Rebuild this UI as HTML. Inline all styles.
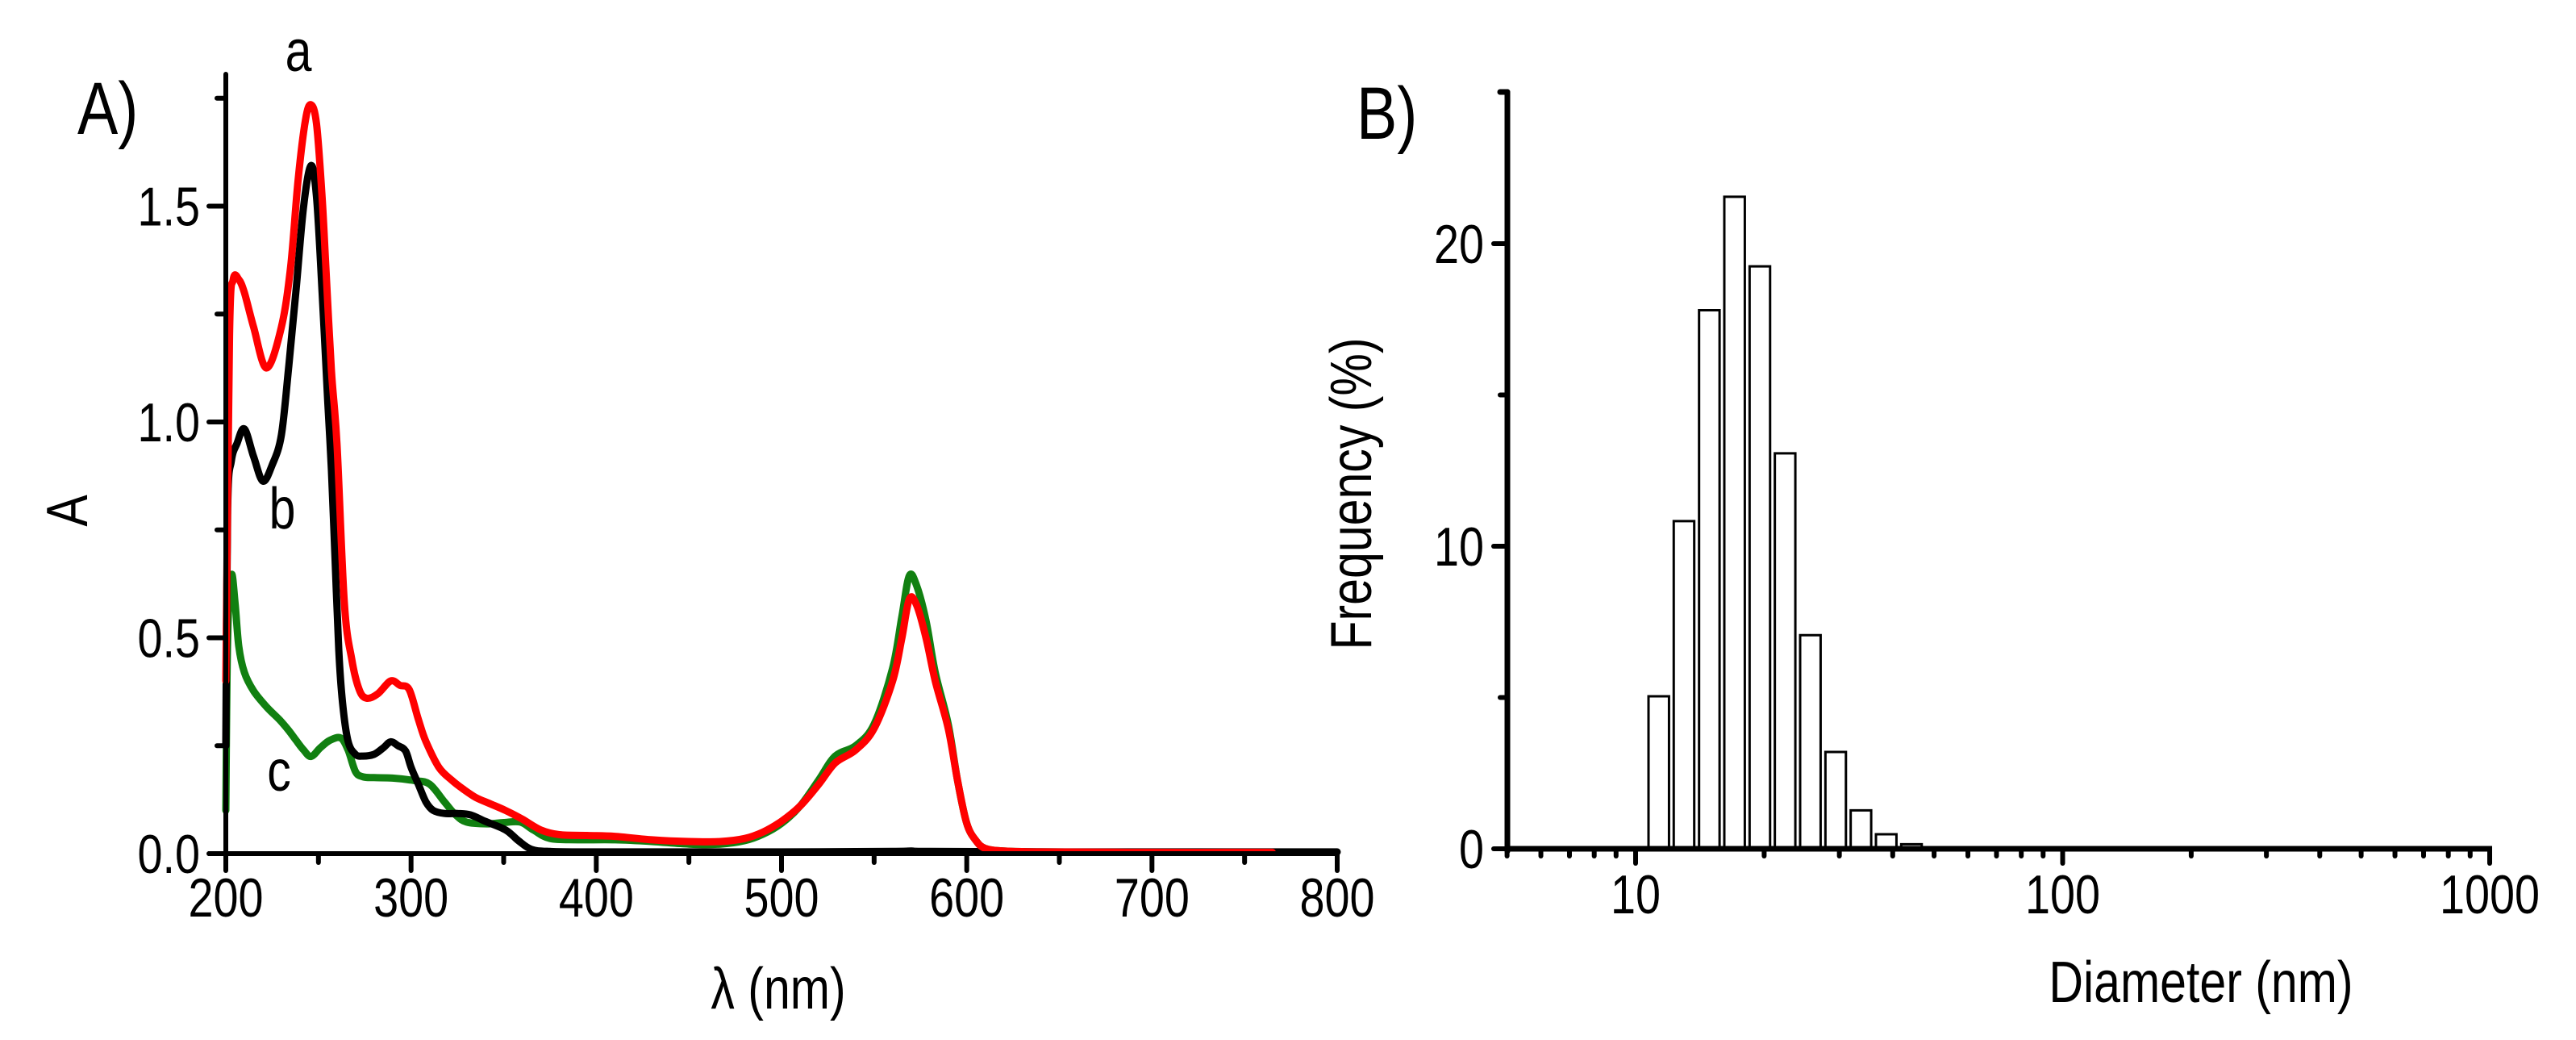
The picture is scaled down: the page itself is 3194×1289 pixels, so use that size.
<!DOCTYPE html>
<html><head><meta charset="utf-8"><style>
html,body{margin:0;padding:0;background:#fff;}
svg{display:block;}
text{font-family:"Liberation Sans",sans-serif;fill:#000;}
</style></head><body>
<svg id="fig" width="3194" height="1289" viewBox="0 0 3194 1289" xmlns="http://www.w3.org/2000/svg">
<g id="pa"></g>
<g id="pb"></g>
</svg>
<script>
// Panel A data
const waveA = [200,202,204,207,210,215,222,230,235,239,243,246,249,252,254,257,260,264,268,272,276,282,289,294,299,304,308,315,322,328,335,343,351,360,370,380,395,410,430,450,467,480,490,500,510,520,529,540,550,560,565,569,573,578,583,590,595,600,605,610,620,640,700,765];
const redA  = [0.40,1.20,1.33,1.33,1.30,1.22,1.125,1.22,1.36,1.56,1.70,1.735,1.69,1.52,1.36,1.12,0.95,0.58,0.45,0.38,0.36,0.37,0.40,0.39,0.38,0.31,0.26,0.20,0.17,0.15,0.13,0.115,0.10,0.08,0.055,0.044,0.042,0.040,0.032,0.028,0.028,0.035,0.05,0.075,0.11,0.16,0.21,0.24,0.29,0.40,0.50,0.59,0.575,0.50,0.40,0.29,0.17,0.07,0.03,0.012,0.006,0.004,0.003,0.003];
const waveB = [200,201,203,206,210,215,220,225,230,234,238,242,246,249,252,255,257,259,261,263,266,270,274,280,285,289,293,297,300,304,308,312,318,325,332,340,351,358,365,375,400,500,560,570,580,650,800];
const blackB= [0.25,0.80,0.91,0.95,0.984,0.92,0.863,0.90,0.97,1.13,1.31,1.50,1.594,1.52,1.30,1.05,0.89,0.68,0.47,0.35,0.26,0.23,0.226,0.23,0.245,0.259,0.25,0.238,0.20,0.16,0.12,0.10,0.093,0.093,0.09,0.075,0.055,0.03,0.01,0.005,0.004,0.004,0.005,0.006,0.005,0.004,0.004];
const waveC = [200,201,203,205,207,210,215,222,229,234,238,242,246,251,256,262,266,270,274,280,290,302,310,318,324,330,341,350,359,366,375,390,410,430,450,467,480,490,500,510,520,529,540,550,560,565,569,573,578,583,590,595,600,605,610,620,640,700,765];
const greenC= [0.10,0.50,0.645,0.58,0.48,0.42,0.377,0.34,0.31,0.285,0.262,0.24,0.225,0.245,0.262,0.268,0.24,0.19,0.178,0.176,0.175,0.169,0.161,0.12,0.09,0.073,0.069,0.072,0.073,0.055,0.035,0.032,0.032,0.028,0.022,0.022,0.03,0.045,0.07,0.11,0.17,0.226,0.25,0.30,0.43,0.55,0.644,0.62,0.54,0.42,0.30,0.17,0.07,0.03,0.012,0.006,0.004,0.003,0.003];
const xTicksA = [200,300,400,500,600,700,800];
const yTicksA = [0.0,0.5,1.0,1.5];
// Panel B data
const diam = [11.33,12.98,14.88,17.05,19.54,22.39,25.66,29.41,33.70,38.62,44.26];
const freq = [5.04,10.83,17.8,21.55,19.25,13.07,7.06,3.2,1.27,0.48,0.15];
const xTicksB = [10,100,1000];
const yTicksB = [0,10,20];

const NS="http://www.w3.org/2000/svg";
const SX=0.82;
function mk(parent,tag,attrs,txt){const e=document.createElementNS(NS,tag);for(const k in attrs)e.setAttribute(k,attrs[k]);if(txt!==undefined)e.textContent=txt;parent.appendChild(e);return e;}
function txt(parent,x,y,size,anchor,s,rot){
  const tr='translate('+x+','+y+')'+(rot?' rotate(-90)':'')+' scale('+SX+',1)';
  return mk(parent,'text',{x:0,y:0,'font-size':size,'text-anchor':anchor,transform:tr},s);
}
function smooth(pts){
  let d='M'+pts[0][0].toFixed(1)+','+pts[0][1].toFixed(1);
  for(let i=0;i<pts.length-1;i++){
    const p0=pts[Math.max(0,i-1)],p1=pts[i],p2=pts[i+1],p3=pts[Math.min(pts.length-1,i+2)];
    const c1=[p1[0]+(p2[0]-p0[0])/6,p1[1]+(p2[1]-p0[1])/6];
    const c2=[p2[0]-(p3[0]-p1[0])/6,p2[1]-(p3[1]-p1[1])/6];
    d+='C'+c1[0].toFixed(1)+','+c1[1].toFixed(1)+' '+c2[0].toFixed(1)+','+c2[1].toFixed(1)+' '+p2[0].toFixed(1)+','+p2[1].toFixed(1);
  }
  return d;
}

// ---- Panel A ----
const pa=document.getElementById('pa');
const ax=v=>280+(v-200)*(1378/600);
const ay=v=>1058-v*535;
function series(xs,ys,col,name){
  const pts=xs.map((x,i)=>[ax(x),ay(ys[i])]);
  const p=mk(pa,'path',{d:smooth(pts),fill:'none',stroke:col,'stroke-width':9,'stroke-linejoin':'round','stroke-linecap':'round'});
  
  
}
series(waveC,greenC,'#118011','curve-c-green');
series(waveB,blackB,'#000','curve-b-black');
series(waveA,redA,'#ff0000','curve-a-red');
let e=mk(pa,'line',{x1:280,y1:92,x2:280,y2:1061,stroke:'#000','stroke-width':6,'stroke-linecap':'round'});

e=mk(pa,'line',{x1:258,y1:1058,x2:1659,y2:1058,stroke:'#000','stroke-width':6});

for(let v=200;v<=800;v+=50){const maj=v%100===0;
  e=mk(pa,'line',{x1:ax(v),y1:1058,x2:ax(v),y2:maj?1079:1069,stroke:'#000','stroke-width':6,'stroke-linecap':'round'});
  }
xTicksA.forEach(v=>{e=txt(pa,ax(v),1136,68,'middle',String(v));
  });
for(let v=0;v<=1.76;v+=0.25){const maj=Math.abs(v*2-Math.round(v*2))<1e-6;
  e=mk(pa,'line',{x1:maj?259:269,y1:ay(v),x2:280,y2:ay(v),stroke:'#000','stroke-width':6,'stroke-linecap':'round'});
  }
yTicksA.forEach(v=>{e=txt(pa,248,ay(v)+24,68,'end',v.toFixed(1));
  });
e=txt(pa,965,1250,72,'middle','λ (nm)');

e=txt(pa,108,633,72,'middle','A',true);

e=txt(pa,96,166,92,'start','A)');

[['a',370,88,'curve-label-a'],['b',350,655,'curve-label-b'],['c',346,980,'curve-label-c']].forEach(t=>{
  e=txt(pa,t[1],t[2],72,'middle',t[0]);
  });

// ---- Panel B ----
const pb=document.getElementById('pb');
const bx=v=>2028+(Math.log10(v)-1)*529.5;
const by=v=>1052-v*37.5;
const halfW=0.024;
diam.forEach((d,i)=>{
  const x1=bx(Math.pow(10,Math.log10(d)-halfW)),x2=bx(Math.pow(10,Math.log10(d)+halfW));
  const b=mk(pb,'rect',{x:x1,y:by(freq[i]),width:x2-x1,height:by(0)-by(freq[i]),fill:'#fff',stroke:'#000','stroke-width':3});
  
  
});
e=mk(pb,'line',{x1:1869,y1:114,x2:1869,y2:1055,stroke:'#000','stroke-width':7,'stroke-linecap':'round'});

e=mk(pb,'line',{x1:1860,y1:114,x2:1869,y2:114,stroke:'#000','stroke-width':7,'stroke-linecap':'round'});

e=mk(pb,'line',{x1:1866,y1:1052,x2:3090,y2:1052,stroke:'#000','stroke-width':7});

for(let dec=1;dec<=100;dec*=10){for(let m=1;m<=9;m++){const v=m*dec;if(v<5)continue;const maj=m===1;
  e=mk(pb,'line',{x1:bx(v),y1:1052,x2:bx(v),y2:maj?1070:1061,stroke:'#000','stroke-width':6,'stroke-linecap':'round'});
  }}
e=mk(pb,'line',{x1:bx(1000),y1:1052,x2:bx(1000),y2:1070,stroke:'#000','stroke-width':6,'stroke-linecap':'round'});

xTicksB.forEach(v=>{e=txt(pb,bx(v),1132,68,'middle',String(v));
  });
for(let v=0;v<=25;v+=5){const maj=v%10===0;
  e=mk(pb,'line',{x1:maj?1852:1860,y1:by(v),x2:1869,y2:by(v),stroke:'#000','stroke-width':6,'stroke-linecap':'round'});
  }
yTicksB.forEach(v=>{e=txt(pb,1840,by(v)+24,68,'end',String(v));
  });
e=txt(pb,2729,1242,72,'middle','Diameter (nm)');

e=txt(pb,1700,612,72,'middle','Frequency (%)',true);

e=txt(pb,1682,172,92,'start','B)');

</script>
</body></html>
